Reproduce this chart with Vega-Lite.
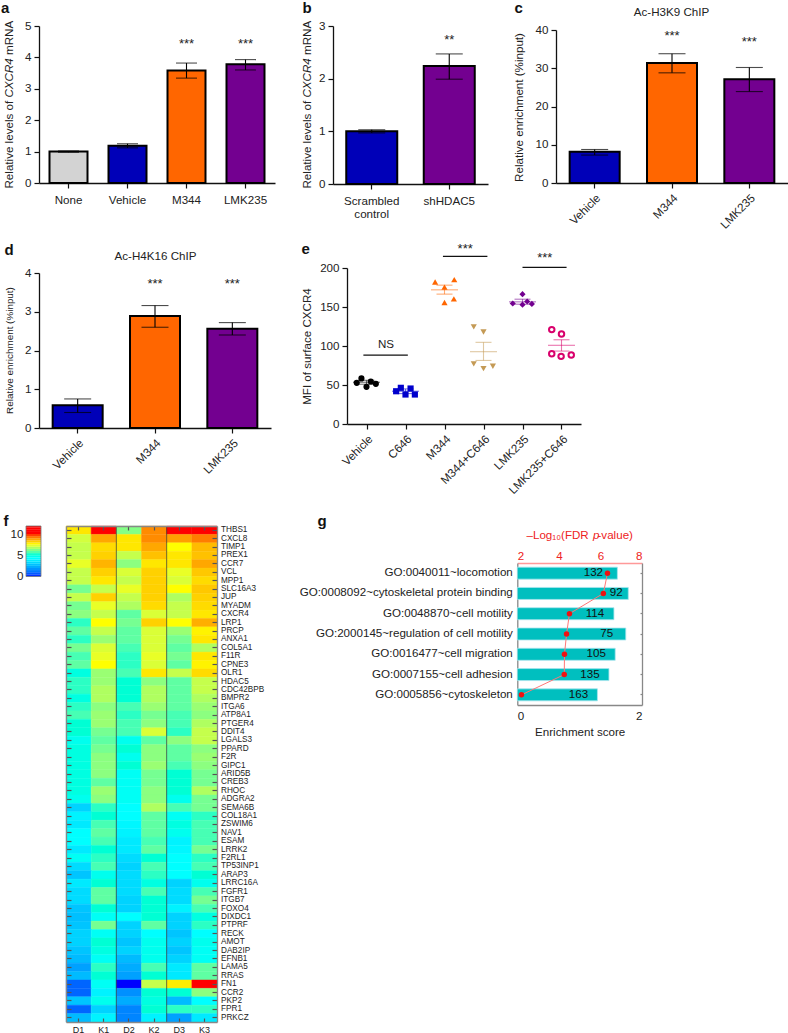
{"$schema":"https://vega.github.io/schema/vega-lite/v6.json","background":"white","autosize":{"type":"none"},"padding":0,"width":788,"height":1033,
"config":{"view":{"stroke":null},"font":"Liberation Sans","axis":{"grid":false,"labelFont":"Liberation Sans","titleFont":"Liberation Sans","labelFontSize":11.6,"titleFontSize":11.6,"titleFontWeight":"normal","labelColor":"#222","titleColor":"#222","domainColor":"#111","tickColor":"#111","domainWidth":1.3,"tickWidth":1.2,"tickSize":5,"labelPadding":3,"labelOverlap":false,"labelLimit":400},"text":{"font":"Liberation Sans"}},
"resolve":{"scale":{"x":"independent","y":"independent","color":"independent","stroke":"independent","shape":"independent"},"axis":{"x":"independent","y":"independent"}},
"datasets":{
"a":[{"cat":"None","value":1.0,"lo":0.98,"hi":1.02},{"cat":"Vehicle","value":1.19,"lo":1.12,"hi":1.25},{"cat":"M344","value":3.58,"lo":3.34,"hi":3.82,"star":"***","starAt":4.5},{"cat":"LMK235","value":3.78,"lo":3.6,"hi":3.93,"star":"***","starAt":4.5}],
"b":[{"cat":"Scrambled control","value":1.0,"lo":0.97,"hi":1.03},{"cat":"shHDAC5","value":2.24,"lo":1.99,"hi":2.47,"star":"**","starAt":2.78}],
"c":[{"cat":"Vehicle","value":8.15,"lo":7.3,"hi":8.76},{"cat":"M344","value":31.4,"lo":28.8,"hi":33.8,"star":"***","starAt":39},{"cat":"LMK235","value":27.1,"lo":23.9,"hi":30.2,"star":"***","starAt":37.5}],
"d":[{"cat":"Vehicle","value":0.59,"lo":0.4,"hi":0.75},{"cat":"M344","value":2.89,"lo":2.6,"hi":3.16,"star":"***","starAt":3.77},{"cat":"LMK235","value":2.56,"lo":2.4,"hi":2.72,"star":"***","starAt":3.77}],
"ePoints":[{"group":"Vehicle","pos":0.25,"mfi":52.8},{"group":"Vehicle","pos":0.37,"mfi":58.4},{"group":"Vehicle","pos":0.5,"mfi":47.6},{"group":"Vehicle","pos":0.61,"mfi":54.5},{"group":"Vehicle","pos":0.74,"mfi":51.5},
{"group":"C646","pos":1.26,"mfi":42},{"group":"C646","pos":1.38,"mfi":46.4},{"group":"C646","pos":1.5,"mfi":37.8},{"group":"C646","pos":1.63,"mfi":45.5},{"group":"C646","pos":1.74,"mfi":37.8},
{"group":"M344","pos":2.26,"mfi":182},{"group":"M344","pos":2.75,"mfi":185},{"group":"M344","pos":2.5,"mfi":175.5},{"group":"M344","pos":2.5,"mfi":155.8},{"group":"M344","pos":2.74,"mfi":160.5},
{"group":"M344+C646","pos":3.25,"mfi":124.5},{"group":"M344+C646","pos":3.5,"mfi":118},{"group":"M344+C646","pos":3.25,"mfi":77},{"group":"M344+C646","pos":3.5,"mfi":71},{"group":"M344+C646","pos":3.74,"mfi":74},
{"group":"LMK235","pos":4.5,"mfi":166.5},{"group":"LMK235","pos":4.25,"mfi":154.5},{"group":"LMK235","pos":4.5,"mfi":153},{"group":"LMK235","pos":4.62,"mfi":157},{"group":"LMK235","pos":4.74,"mfi":154},
{"group":"LMK235+C646","pos":5.25,"mfi":121},{"group":"LMK235+C646","pos":5.5,"mfi":115.5},{"group":"LMK235+C646","pos":5.25,"mfi":90},{"group":"LMK235+C646","pos":5.49,"mfi":86.7},{"group":"LMK235+C646","pos":5.75,"mfi":88.4}],
"eStats":[{"group":"Vehicle","pos":0.5,"mean":53.5,"lo":51,"hi":56},{"group":"C646","pos":1.5,"mean":42,"lo":39,"hi":45},{"group":"M344","pos":2.5,"mean":172,"lo":166.5,"hi":178},{"group":"M344+C646","pos":3.5,"mean":92.7,"lo":81.5,"hi":104.7},{"group":"LMK235","pos":4.5,"mean":156.6,"lo":153.6,"hi":160},{"group":"LMK235+C646","pos":5.5,"mean":100.9,"lo":93.5,"hi":108}],
"eSig":[{"from":0.42,"to":1.56,"at":88.4,"mid":1.0,"textAt":101,"label":"NS"},{"from":2.46,"to":3.6,"at":215,"mid":3.03,"textAt":227,"label":"***"},{"from":4.5,"to":5.63,"at":200.9,"mid":5.07,"textAt":216,"label":"***"}],
"g":[{"rank":1,"term":"GO:0040011~locomotion","score":1.605,"fdr":6.34,"count":132},{"rank":2,"term":"GO:0008092~cytoskeletal protein binding","score":1.78,"fdr":6.14,"count":92},{"rank":3,"term":"GO:0048870~cell motility","score":1.55,"fdr":4.51,"count":114},{"rank":4,"term":"GO:2000145~regulation of cell motility","score":1.74,"fdr":4.37,"count":75},{"rank":5,"term":"GO:0016477~cell migration","score":1.57,"fdr":4.27,"count":105},{"rank":6,"term":"GO:0007155~cell adhesion","score":1.47,"fdr":4.26,"count":135},{"rank":7,"term":"GO:0005856~cytoskeleton","score":1.285,"fdr":2.2,"count":163}],
"bar":[{"k":"bar","lo":0,"hi":0.52,"mid":0.25},{"k":"bar","lo":0.5,"hi":1.02,"mid":0.75},{"k":"bar","lo":1,"hi":1.52,"mid":1.25},{"k":"bar","lo":1.5,"hi":2.02,"mid":1.75},{"k":"bar","lo":2,"hi":2.52,"mid":2.25},{"k":"bar","lo":2.5,"hi":3.02,"mid":2.75},{"k":"bar","lo":3,"hi":3.52,"mid":3.25},{"k":"bar","lo":3.5,"hi":4.02,"mid":3.75},{"k":"bar","lo":4,"hi":4.52,"mid":4.25},{"k":"bar","lo":4.5,"hi":5.02,"mid":4.75},{"k":"bar","lo":5,"hi":5.52,"mid":5.25},{"k":"bar","lo":5.5,"hi":6.02,"mid":5.75},{"k":"bar","lo":6,"hi":6.52,"mid":6.25},{"k":"bar","lo":6.5,"hi":7.02,"mid":6.75},{"k":"bar","lo":7,"hi":7.52,"mid":7.25},{"k":"bar","lo":7.5,"hi":8.02,"mid":7.75},{"k":"bar","lo":8,"hi":8.52,"mid":8.25},{"k":"bar","lo":8.5,"hi":9.02,"mid":8.75},{"k":"bar","lo":9,"hi":9.52,"mid":9.25},{"k":"bar","lo":9.5,"hi":10.02,"mid":9.75},{"k":"bar","lo":10,"hi":10.52,"mid":10.25},{"k":"bar","lo":10.5,"hi":11.02,"mid":10.75},{"k":"bar","lo":11,"hi":11.52,"mid":11.25},{"k":"bar","lo":11.5,"hi":11.9,"mid":11.75}],
"heat":[
{"gene":"THBS1","sample":"D1","value":8.4},{"gene":"THBS1","sample":"K1","value":11},{"gene":"THBS1","sample":"D2","value":6.3},{"gene":"THBS1","sample":"K2","value":9.8},{"gene":"THBS1","sample":"D3","value":11},{"gene":"THBS1","sample":"K3","value":11},
{"gene":"CXCL8","sample":"D1","value":7.4},{"gene":"CXCL8","sample":"K1","value":9.4},{"gene":"CXCL8","sample":"D2","value":8.4},{"gene":"CXCL8","sample":"K2","value":9.8},{"gene":"CXCL8","sample":"D3","value":9.5},{"gene":"CXCL8","sample":"K3","value":10},
{"gene":"TIMP1","sample":"D1","value":7.2},{"gene":"TIMP1","sample":"K1","value":8.6},{"gene":"TIMP1","sample":"D2","value":8.4},{"gene":"TIMP1","sample":"K2","value":9.4},{"gene":"TIMP1","sample":"D3","value":8},{"gene":"TIMP1","sample":"K3","value":9.1},
{"gene":"PREX1","sample":"D1","value":7.2},{"gene":"PREX1","sample":"K1","value":8.75},{"gene":"PREX1","sample":"D2","value":7.2},{"gene":"PREX1","sample":"K2","value":9},{"gene":"PREX1","sample":"D3","value":8.4},{"gene":"PREX1","sample":"K3","value":9},
{"gene":"CCR7","sample":"D1","value":7.7},{"gene":"CCR7","sample":"K1","value":9.2},{"gene":"CCR7","sample":"D2","value":6.4},{"gene":"CCR7","sample":"K2","value":8.4},{"gene":"CCR7","sample":"D3","value":8.4},{"gene":"CCR7","sample":"K3","value":9.4},
{"gene":"VCL","sample":"D1","value":7.2},{"gene":"VCL","sample":"K1","value":8.75},{"gene":"VCL","sample":"D2","value":7.5},{"gene":"VCL","sample":"K2","value":8.75},{"gene":"VCL","sample":"D3","value":7.7},{"gene":"VCL","sample":"K3","value":8.9},
{"gene":"MPP1","sample":"D1","value":7.2},{"gene":"MPP1","sample":"K1","value":8.4},{"gene":"MPP1","sample":"D2","value":7.2},{"gene":"MPP1","sample":"K2","value":8.75},{"gene":"MPP1","sample":"D3","value":7.5},{"gene":"MPP1","sample":"K3","value":8.6},
{"gene":"SLC16A3","sample":"D1","value":6.1},{"gene":"SLC16A3","sample":"K1","value":7.2},{"gene":"SLC16A3","sample":"D2","value":7.7},{"gene":"SLC16A3","sample":"K2","value":8.75},{"gene":"SLC16A3","sample":"D3","value":8},{"gene":"SLC16A3","sample":"K3","value":8.9},
{"gene":"JUP","sample":"D1","value":7.2},{"gene":"JUP","sample":"K1","value":8.75},{"gene":"JUP","sample":"D2","value":7.2},{"gene":"JUP","sample":"K2","value":8.75},{"gene":"JUP","sample":"D3","value":6.9},{"gene":"JUP","sample":"K3","value":8.75},
{"gene":"MYADM","sample":"D1","value":6.1},{"gene":"MYADM","sample":"K1","value":7.7},{"gene":"MYADM","sample":"D2","value":6.9},{"gene":"MYADM","sample":"K2","value":8.6},{"gene":"MYADM","sample":"D3","value":7.2},{"gene":"MYADM","sample":"K3","value":8.6},
{"gene":"CXCR4","sample":"D1","value":6.4},{"gene":"CXCR4","sample":"K1","value":7.2},{"gene":"CXCR4","sample":"D2","value":5.8},{"gene":"CXCR4","sample":"K2","value":7.5},{"gene":"CXCR4","sample":"D3","value":7.2},{"gene":"CXCR4","sample":"K3","value":8.4},
{"gene":"LRP1","sample":"D1","value":5.2},{"gene":"LRP1","sample":"K1","value":8},{"gene":"LRP1","sample":"D2","value":6.1},{"gene":"LRP1","sample":"K2","value":8.75},{"gene":"LRP1","sample":"D3","value":8},{"gene":"LRP1","sample":"K3","value":9.3},
{"gene":"PRCP","sample":"D1","value":5.8},{"gene":"PRCP","sample":"K1","value":7.2},{"gene":"PRCP","sample":"D2","value":5.8},{"gene":"PRCP","sample":"K2","value":7.5},{"gene":"PRCP","sample":"D3","value":6.6},{"gene":"PRCP","sample":"K3","value":8.2},
{"gene":"ANXA1","sample":"D1","value":5.2},{"gene":"ANXA1","sample":"K1","value":6.6},{"gene":"ANXA1","sample":"D2","value":5.8},{"gene":"ANXA1","sample":"K2","value":7.5},{"gene":"ANXA1","sample":"D3","value":6.1},{"gene":"ANXA1","sample":"K3","value":8.4},
{"gene":"COL5A1","sample":"D1","value":6.1},{"gene":"COL5A1","sample":"K1","value":7.5},{"gene":"COL5A1","sample":"D2","value":5.5},{"gene":"COL5A1","sample":"K2","value":7.5},{"gene":"COL5A1","sample":"D3","value":5.8},{"gene":"COL5A1","sample":"K3","value":6.9},
{"gene":"F11R","sample":"D1","value":5.5},{"gene":"F11R","sample":"K1","value":7.7},{"gene":"F11R","sample":"D2","value":5.2},{"gene":"F11R","sample":"K2","value":7.7},{"gene":"F11R","sample":"D3","value":6.1},{"gene":"F11R","sample":"K3","value":8.4},
{"gene":"CPNE3","sample":"D1","value":5.8},{"gene":"CPNE3","sample":"K1","value":8},{"gene":"CPNE3","sample":"D2","value":5.2},{"gene":"CPNE3","sample":"K2","value":7.5},{"gene":"CPNE3","sample":"D3","value":5.8},{"gene":"CPNE3","sample":"K3","value":8.2},
{"gene":"OLR1","sample":"D1","value":4.6},{"gene":"OLR1","sample":"K1","value":6.6},{"gene":"OLR1","sample":"D2","value":5.5},{"gene":"OLR1","sample":"K2","value":8.4},{"gene":"OLR1","sample":"D3","value":7.2},{"gene":"OLR1","sample":"K3","value":8.6},
{"gene":"HDAC5","sample":"D1","value":5.2},{"gene":"HDAC5","sample":"K1","value":6.6},{"gene":"HDAC5","sample":"D2","value":4.9},{"gene":"HDAC5","sample":"K2","value":6.4},{"gene":"HDAC5","sample":"D3","value":5.8},{"gene":"HDAC5","sample":"K3","value":7.2},
{"gene":"CDC42BPB","sample":"D1","value":5.2},{"gene":"CDC42BPB","sample":"K1","value":6.9},{"gene":"CDC42BPB","sample":"D2","value":4.9},{"gene":"CDC42BPB","sample":"K2","value":6.9},{"gene":"CDC42BPB","sample":"D3","value":5.8},{"gene":"CDC42BPB","sample":"K3","value":7.2},
{"gene":"BMPR2","sample":"D1","value":4.6},{"gene":"BMPR2","sample":"K1","value":6.9},{"gene":"BMPR2","sample":"D2","value":4.9},{"gene":"BMPR2","sample":"K2","value":6.9},{"gene":"BMPR2","sample":"D3","value":5.8},{"gene":"BMPR2","sample":"K3","value":6.9},
{"gene":"ITGA6","sample":"D1","value":5.2},{"gene":"ITGA6","sample":"K1","value":6.4},{"gene":"ITGA6","sample":"D2","value":5.5},{"gene":"ITGA6","sample":"K2","value":6.6},{"gene":"ITGA6","sample":"D3","value":5.8},{"gene":"ITGA6","sample":"K3","value":6.6},
{"gene":"ATP8A1","sample":"D1","value":5.5},{"gene":"ATP8A1","sample":"K1","value":6.6},{"gene":"ATP8A1","sample":"D2","value":5.2},{"gene":"ATP8A1","sample":"K2","value":6.1},{"gene":"ATP8A1","sample":"D3","value":5.5},{"gene":"ATP8A1","sample":"K3","value":6.4},
{"gene":"PTGER4","sample":"D1","value":4.9},{"gene":"PTGER4","sample":"K1","value":6.6},{"gene":"PTGER4","sample":"D2","value":5.5},{"gene":"PTGER4","sample":"K2","value":6.4},{"gene":"PTGER4","sample":"D3","value":5.5},{"gene":"PTGER4","sample":"K3","value":6.9},
{"gene":"DDIT4","sample":"D1","value":4.9},{"gene":"DDIT4","sample":"K1","value":6.1},{"gene":"DDIT4","sample":"D2","value":5.5},{"gene":"DDIT4","sample":"K2","value":7.5},{"gene":"DDIT4","sample":"D3","value":5.2},{"gene":"DDIT4","sample":"K3","value":7.2},
{"gene":"LGALS3","sample":"D1","value":4.3},{"gene":"LGALS3","sample":"K1","value":5.8},{"gene":"LGALS3","sample":"D2","value":4.3},{"gene":"LGALS3","sample":"K2","value":5.8},{"gene":"LGALS3","sample":"D3","value":6.4},{"gene":"LGALS3","sample":"K3","value":7.2},
{"gene":"PPARD","sample":"D1","value":4.6},{"gene":"PPARD","sample":"K1","value":6.1},{"gene":"PPARD","sample":"D2","value":4.9},{"gene":"PPARD","sample":"K2","value":6.4},{"gene":"PPARD","sample":"D3","value":5.8},{"gene":"PPARD","sample":"K3","value":6.4},
{"gene":"F2R","sample":"D1","value":4.6},{"gene":"F2R","sample":"K1","value":6.4},{"gene":"F2R","sample":"D2","value":4.3},{"gene":"F2R","sample":"K2","value":6.4},{"gene":"F2R","sample":"D3","value":5.8},{"gene":"F2R","sample":"K3","value":6.6},
{"gene":"GIPC1","sample":"D1","value":4.6},{"gene":"GIPC1","sample":"K1","value":6.4},{"gene":"GIPC1","sample":"D2","value":4.9},{"gene":"GIPC1","sample":"K2","value":6.6},{"gene":"GIPC1","sample":"D3","value":5.5},{"gene":"GIPC1","sample":"K3","value":6.4},
{"gene":"ARID5B","sample":"D1","value":4.6},{"gene":"ARID5B","sample":"K1","value":6.4},{"gene":"ARID5B","sample":"D2","value":4.1},{"gene":"ARID5B","sample":"K2","value":6.1},{"gene":"ARID5B","sample":"D3","value":4.9},{"gene":"ARID5B","sample":"K3","value":6.1},
{"gene":"CREB3","sample":"D1","value":4.6},{"gene":"CREB3","sample":"K1","value":5.8},{"gene":"CREB3","sample":"D2","value":4.1},{"gene":"CREB3","sample":"K2","value":6.1},{"gene":"CREB3","sample":"D3","value":4.9},{"gene":"CREB3","sample":"K3","value":6.1},
{"gene":"RHOC","sample":"D1","value":4.6},{"gene":"RHOC","sample":"K1","value":6.6},{"gene":"RHOC","sample":"D2","value":4.1},{"gene":"RHOC","sample":"K2","value":6.4},{"gene":"RHOC","sample":"D3","value":4.9},{"gene":"RHOC","sample":"K3","value":6.9},
{"gene":"ADGRA2","sample":"D1","value":4.3},{"gene":"ADGRA2","sample":"K1","value":6.4},{"gene":"ADGRA2","sample":"D2","value":4.1},{"gene":"ADGRA2","sample":"K2","value":6.4},{"gene":"ADGRA2","sample":"D3","value":4.3},{"gene":"ADGRA2","sample":"K3","value":6.1},
{"gene":"SEMA6B","sample":"D1","value":2.8},{"gene":"SEMA6B","sample":"K1","value":5.2},{"gene":"SEMA6B","sample":"D2","value":3.8},{"gene":"SEMA6B","sample":"K2","value":6.9},{"gene":"SEMA6B","sample":"D3","value":5.5},{"gene":"SEMA6B","sample":"K3","value":6.1},
{"gene":"COL18A1","sample":"D1","value":3.5},{"gene":"COL18A1","sample":"K1","value":4.9},{"gene":"COL18A1","sample":"D2","value":3.8},{"gene":"COL18A1","sample":"K2","value":5.8},{"gene":"COL18A1","sample":"D3","value":4.1},{"gene":"COL18A1","sample":"K3","value":5.2},
{"gene":"ZSWIM6","sample":"D1","value":3.3},{"gene":"ZSWIM6","sample":"K1","value":5.5},{"gene":"ZSWIM6","sample":"D2","value":3.6},{"gene":"ZSWIM6","sample":"K2","value":5.8},{"gene":"ZSWIM6","sample":"D3","value":4.6},{"gene":"ZSWIM6","sample":"K3","value":5.5},
{"gene":"NAV1","sample":"D1","value":3.8},{"gene":"NAV1","sample":"K1","value":5.8},{"gene":"NAV1","sample":"D2","value":3.5},{"gene":"NAV1","sample":"K2","value":5.8},{"gene":"NAV1","sample":"D3","value":4.3},{"gene":"NAV1","sample":"K3","value":5.5},
{"gene":"ESAM","sample":"D1","value":3.8},{"gene":"ESAM","sample":"K1","value":5.5},{"gene":"ESAM","sample":"D2","value":3.3},{"gene":"ESAM","sample":"K2","value":5.5},{"gene":"ESAM","sample":"D3","value":3.5},{"gene":"ESAM","sample":"K3","value":5.5},
{"gene":"LRRK2","sample":"D1","value":3.3},{"gene":"LRRK2","sample":"K1","value":4.9},{"gene":"LRRK2","sample":"D2","value":3.3},{"gene":"LRRK2","sample":"K2","value":5.8},{"gene":"LRRK2","sample":"D3","value":3.6},{"gene":"LRRK2","sample":"K3","value":6.1},
{"gene":"F2RL1","sample":"D1","value":4.1},{"gene":"F2RL1","sample":"K1","value":5.2},{"gene":"F2RL1","sample":"D2","value":3.0},{"gene":"F2RL1","sample":"K2","value":4.9},{"gene":"F2RL1","sample":"D3","value":3.8},{"gene":"F2RL1","sample":"K3","value":5.2},
{"gene":"TP53INP1","sample":"D1","value":3},{"gene":"TP53INP1","sample":"K1","value":5.5},{"gene":"TP53INP1","sample":"D2","value":2.8},{"gene":"TP53INP1","sample":"K2","value":5.5},{"gene":"TP53INP1","sample":"D3","value":3.8},{"gene":"TP53INP1","sample":"K3","value":5.5},
{"gene":"ARAP3","sample":"D1","value":2.5},{"gene":"ARAP3","sample":"K1","value":4.3},{"gene":"ARAP3","sample":"D2","value":3},{"gene":"ARAP3","sample":"K2","value":5.2},{"gene":"ARAP3","sample":"D3","value":3.8},{"gene":"ARAP3","sample":"K3","value":4.9},
{"gene":"LRRC16A","sample":"D1","value":3.3},{"gene":"LRRC16A","sample":"K1","value":4.9},{"gene":"LRRC16A","sample":"D2","value":3},{"gene":"LRRC16A","sample":"K2","value":4.6},{"gene":"LRRC16A","sample":"D3","value":2.8},{"gene":"LRRC16A","sample":"K3","value":4.3},
{"gene":"FGFR1","sample":"D1","value":3},{"gene":"FGFR1","sample":"K1","value":5.8},{"gene":"FGFR1","sample":"D2","value":3},{"gene":"FGFR1","sample":"K2","value":5.5},{"gene":"FGFR1","sample":"D3","value":3},{"gene":"FGFR1","sample":"K3","value":5.5},
{"gene":"ITGB7","sample":"D1","value":3},{"gene":"ITGB7","sample":"K1","value":5.8},{"gene":"ITGB7","sample":"D2","value":2.8},{"gene":"ITGB7","sample":"K2","value":4.9},{"gene":"ITGB7","sample":"D3","value":3},{"gene":"ITGB7","sample":"K3","value":6.1},
{"gene":"FOXO4","sample":"D1","value":2.5},{"gene":"FOXO4","sample":"K1","value":4.9},{"gene":"FOXO4","sample":"D2","value":2.8},{"gene":"FOXO4","sample":"K2","value":4.9},{"gene":"FOXO4","sample":"D3","value":3.5},{"gene":"FOXO4","sample":"K3","value":5.5},
{"gene":"DIXDC1","sample":"D1","value":2.4},{"gene":"DIXDC1","sample":"K1","value":4.1},{"gene":"DIXDC1","sample":"D2","value":3.8},{"gene":"DIXDC1","sample":"K2","value":4.9},{"gene":"DIXDC1","sample":"D3","value":2.8},{"gene":"DIXDC1","sample":"K3","value":4.6},
{"gene":"PTPRF","sample":"D1","value":2.5},{"gene":"PTPRF","sample":"K1","value":6.1},{"gene":"PTPRF","sample":"D2","value":2.8},{"gene":"PTPRF","sample":"K2","value":5.8},{"gene":"PTPRF","sample":"D3","value":2.8},{"gene":"PTPRF","sample":"K3","value":5.2},
{"gene":"RECK","sample":"D1","value":2.8},{"gene":"RECK","sample":"K1","value":4.1},{"gene":"RECK","sample":"D2","value":2.8},{"gene":"RECK","sample":"K2","value":3.8},{"gene":"RECK","sample":"D3","value":2.5},{"gene":"RECK","sample":"K3","value":3.8},
{"gene":"AMOT","sample":"D1","value":2.8},{"gene":"AMOT","sample":"K1","value":4.9},{"gene":"AMOT","sample":"D2","value":2.5},{"gene":"AMOT","sample":"K2","value":4.3},{"gene":"AMOT","sample":"D3","value":2.8},{"gene":"AMOT","sample":"K3","value":4.3},
{"gene":"DAB2IP","sample":"D1","value":2.5},{"gene":"DAB2IP","sample":"K1","value":4.6},{"gene":"DAB2IP","sample":"D2","value":2.8},{"gene":"DAB2IP","sample":"K2","value":4.3},{"gene":"DAB2IP","sample":"D3","value":2.5},{"gene":"DAB2IP","sample":"K3","value":4.1},
{"gene":"EFNB1","sample":"D1","value":2.3},{"gene":"EFNB1","sample":"K1","value":4.1},{"gene":"EFNB1","sample":"D2","value":2.3},{"gene":"EFNB1","sample":"K2","value":4.3},{"gene":"EFNB1","sample":"D3","value":2.8},{"gene":"EFNB1","sample":"K3","value":4.1},
{"gene":"LAMA5","sample":"D1","value":1.8},{"gene":"LAMA5","sample":"K1","value":5.2},{"gene":"LAMA5","sample":"D2","value":2},{"gene":"LAMA5","sample":"K2","value":5.5},{"gene":"LAMA5","sample":"D3","value":3.3},{"gene":"LAMA5","sample":"K3","value":5.8},
{"gene":"RRAS","sample":"D1","value":2.3},{"gene":"RRAS","sample":"K1","value":4.9},{"gene":"RRAS","sample":"D2","value":1.8},{"gene":"RRAS","sample":"K2","value":4.9},{"gene":"RRAS","sample":"D3","value":3.3},{"gene":"RRAS","sample":"K3","value":5.8},
{"gene":"FN1","sample":"D1","value":0.8},{"gene":"FN1","sample":"K1","value":4.1},{"gene":"FN1","sample":"D2","value":0},{"gene":"FN1","sample":"K2","value":7.2},{"gene":"FN1","sample":"D3","value":8.3},{"gene":"FN1","sample":"K3","value":11},
{"gene":"CCR2","sample":"D1","value":0.8},{"gene":"CCR2","sample":"K1","value":3.5},{"gene":"CCR2","sample":"D2","value":1.5},{"gene":"CCR2","sample":"K2","value":4.9},{"gene":"CCR2","sample":"D3","value":4.9},{"gene":"CCR2","sample":"K3","value":6.4},
{"gene":"PKP2","sample":"D1","value":2.5},{"gene":"PKP2","sample":"K1","value":4.3},{"gene":"PKP2","sample":"D2","value":2},{"gene":"PKP2","sample":"K2","value":4.6},{"gene":"PKP2","sample":"D3","value":2.3},{"gene":"PKP2","sample":"K3","value":3.8},
{"gene":"FPR1","sample":"D1","value":0.8},{"gene":"FPR1","sample":"K1","value":2.8},{"gene":"FPR1","sample":"D2","value":1.3},{"gene":"FPR1","sample":"K2","value":4.9},{"gene":"FPR1","sample":"D3","value":5.2},{"gene":"FPR1","sample":"K3","value":5.2},
{"gene":"PRKCZ","sample":"D1","value":2.3},{"gene":"PRKCZ","sample":"K1","value":3.5},{"gene":"PRKCZ","sample":"D2","value":1.3},{"gene":"PRKCZ","sample":"K2","value":3.5},{"gene":"PRKCZ","sample":"D3","value":1.8},{"gene":"PRKCZ","sample":"K3","value":3.3}
]},
"layer":[
{"data":{"name":"a"},"resolve":{"axis":{"x":"independent","y":"independent"}},"layer":[
{"mark":{"type":"bar","width":38,"stroke":"#000","strokeWidth":2},"encoding":{"x":{"field":"cat","type":"nominal","sort":null,"title":null,"scale":{"range":[39,275],"paddingInner":0,"paddingOuter":0},"axis":{"orient":"bottom","labelAngle":0,"labelPadding":6,"offset":-850}},"y":{"field":"value","type":"quantitative","scale":{"domain":[0,5],"nice":false,"range":[183,26]},"axis":{"orient":"left","values":[0,1,2,3,4,5],"offset":-39,"title":"Relative levels of","titleX":-30,"titleY":188,"titleAlign":"left","titleBaseline":"middle","titleAngle":-90}},"color":{"field":"cat","type":"nominal","legend":null,"scale":{"domain":["None","Vehicle","M344","LMK235"],"range":["#d3d3d3","#0000b8","#ff6600","#730090"]}}}},
{"mark":{"type":"rule","stroke":"#000","strokeWidth":1.1},"encoding":{"x":{"field":"cat","type":"nominal","sort":null,"axis":null},"y":{"field":"lo","type":"quantitative","axis":{"orient":"left","labels":false,"ticks":false,"domain":false,"title":"CXCR4","titleFontStyle":"italic","titleX":9,"titleY":97,"titleAlign":"left","titleBaseline":"middle","titleAngle":-90}},"y2":{"field":"hi"}}},
{"mark":{"type":"tick","size":21,"thickness":1.1,"color":"#000"},"encoding":{"x":{"field":"cat","type":"nominal","sort":null,"axis":null},"y":{"field":"lo","type":"quantitative","axis":{"orient":"left","labels":false,"ticks":false,"domain":false,"title":"mRNA","titleX":9,"titleY":54.5,"titleAlign":"left","titleBaseline":"middle","titleAngle":-90}}}},
{"mark":{"type":"tick","size":21,"thickness":1.1,"color":"#000"},"encoding":{"x":{"field":"cat","type":"nominal","sort":null,"axis":null},"y":{"field":"hi","type":"quantitative","axis":null}}},
{"transform":[{"filter":"datum.star"}],"mark":{"type":"text","fontSize":13,"color":"#222","baseline":"middle","dy":2},"encoding":{"x":{"field":"cat","type":"nominal","sort":null,"axis":null},"y":{"field":"starAt","type":"quantitative","axis":{"orient":"left","labels":false,"ticks":false,"domain":false,"title":"a","titleFontSize":15,"titleFontWeight":"bold","titleColor":"#111","titleX":0.5,"titleY":12,"titleAlign":"left","titleBaseline":"alphabetic","titleAngle":0}},"text":{"field":"star"}}}
]},
{"data":{"name":"b"},"resolve":{"axis":{"x":"independent","y":"independent"}},"layer":[
{"mark":{"type":"bar","width":51,"stroke":"#000","strokeWidth":2},"encoding":{"x":{"field":"cat","type":"nominal","sort":null,"title":null,"scale":{"range":[333,488],"paddingInner":0,"paddingOuter":0},"axis":{"orient":"bottom","labelAngle":0,"labelPadding":6,"offset":-849,"labelExpr":"datum.label=='Scrambled control'?['Scrambled','control']:datum.label"}},"y":{"field":"value","type":"quantitative","scale":{"domain":[0,3],"nice":false,"range":[184,26]},"axis":{"orient":"left","values":[0,1,2,3],"offset":-333,"title":"Relative levels of","titleX":-26,"titleY":188,"titleAlign":"left","titleBaseline":"middle","titleAngle":-90}},"color":{"field":"cat","type":"nominal","legend":null,"scale":{"domain":["Scrambled control","shHDAC5"],"range":["#0000b8","#730090"]}}}},
{"mark":{"type":"rule","stroke":"#000","strokeWidth":1.1},"encoding":{"x":{"field":"cat","type":"nominal","sort":null,"axis":null},"y":{"field":"lo","type":"quantitative","axis":{"orient":"left","labels":false,"ticks":false,"domain":false,"title":"CXCR4","titleFontStyle":"italic","titleX":307,"titleY":97,"titleAlign":"left","titleBaseline":"middle","titleAngle":-90}},"y2":{"field":"hi"}}},
{"mark":{"type":"tick","size":27,"thickness":1.1,"color":"#000"},"encoding":{"x":{"field":"cat","type":"nominal","sort":null,"axis":null},"y":{"field":"lo","type":"quantitative","axis":{"orient":"left","labels":false,"ticks":false,"domain":false,"title":"mRNA","titleX":307,"titleY":54.5,"titleAlign":"left","titleBaseline":"middle","titleAngle":-90}}}},
{"mark":{"type":"tick","size":27,"thickness":1.1,"color":"#000"},"encoding":{"x":{"field":"cat","type":"nominal","sort":null,"axis":null},"y":{"field":"hi","type":"quantitative","axis":null}}},
{"transform":[{"filter":"datum.star"}],"mark":{"type":"text","fontSize":13,"color":"#222","baseline":"middle","dy":2},"encoding":{"x":{"field":"cat","type":"nominal","sort":null,"axis":null},"y":{"field":"starAt","type":"quantitative","axis":{"orient":"left","labels":false,"ticks":false,"domain":false,"title":"b","titleFontSize":15,"titleFontWeight":"bold","titleColor":"#111","titleX":302,"titleY":12,"titleAlign":"left","titleBaseline":"alphabetic","titleAngle":0}},"text":{"field":"star"}}}
]},
{"data":{"name":"c"},"resolve":{"axis":{"x":"independent","y":"independent"}},"layer":[
{"mark":{"type":"bar","width":50,"stroke":"#000","strokeWidth":2},"encoding":{"x":{"field":"cat","type":"nominal","sort":null,"title":null,"scale":{"range":[556,788],"paddingInner":0,"paddingOuter":0},"axis":{"orient":"bottom","labelAngle":-45,"labelAlign":"right","labelBaseline":"top","labelPadding":4,"offset":-850}},"y":{"field":"value","type":"quantitative","scale":{"domain":[0,40],"nice":false,"range":[183,30]},"axis":{"orient":"left","values":[0,10,20,30,40],"offset":-556,"title":"Relative enrichment (%input)","titleX":-37,"titleY":107,"titleBaseline":"middle"}},"color":{"field":"cat","type":"nominal","legend":null,"scale":{"domain":["Vehicle","M344","LMK235"],"range":["#0000b8","#ff6600","#730090"]}}}},
{"mark":{"type":"rule","stroke":"#000","strokeWidth":1.1},"encoding":{"x":{"field":"cat","type":"nominal","sort":null,"axis":{"orient":"top","labels":false,"ticks":false,"domain":false,"title":"Ac-H3K9 ChIP","titleX":671,"titleY":12,"titleBaseline":"middle"}},"y":{"field":"lo","type":"quantitative","axis":null},"y2":{"field":"hi"}}},
{"mark":{"type":"tick","size":27,"thickness":1.1,"color":"#000"},"encoding":{"x":{"field":"cat","type":"nominal","sort":null,"axis":null},"y":{"field":"lo","type":"quantitative","axis":null}}},
{"mark":{"type":"tick","size":27,"thickness":1.1,"color":"#000"},"encoding":{"x":{"field":"cat","type":"nominal","sort":null,"axis":null},"y":{"field":"hi","type":"quantitative","axis":null}}},
{"transform":[{"filter":"datum.star"}],"mark":{"type":"text","fontSize":13,"color":"#222","baseline":"middle","dy":2},"encoding":{"x":{"field":"cat","type":"nominal","sort":null,"axis":null},"y":{"field":"starAt","type":"quantitative","axis":{"orient":"left","labels":false,"ticks":false,"domain":false,"title":"c","titleFontSize":15,"titleFontWeight":"bold","titleColor":"#111","titleX":514,"titleY":12,"titleAlign":"left","titleBaseline":"alphabetic","titleAngle":0}},"text":{"field":"star"}}}
]},
{"data":{"name":"d"},"resolve":{"axis":{"x":"independent","y":"independent"}},"layer":[
{"mark":{"type":"bar","width":50,"stroke":"#000","strokeWidth":2},"encoding":{"x":{"field":"cat","type":"nominal","sort":null,"title":null,"scale":{"range":[39,271],"paddingInner":0,"paddingOuter":0},"axis":{"orient":"bottom","labelAngle":-45,"labelAlign":"right","labelBaseline":"top","labelPadding":4,"offset":-605}},"y":{"field":"value","type":"quantitative","scale":{"domain":[0,4],"nice":false,"range":[428,273]},"axis":{"orient":"left","values":[0,1,2,3,4],"offset":-39,"title":"Relative enrichment (%input)","titleFontSize":9.9,"titleX":-30,"titleY":350,"titleBaseline":"middle"}},"color":{"field":"cat","type":"nominal","legend":null,"scale":{"domain":["Vehicle","M344","LMK235"],"range":["#0000b8","#ff6600","#730090"]}}}},
{"mark":{"type":"rule","stroke":"#000","strokeWidth":1.1},"encoding":{"x":{"field":"cat","type":"nominal","sort":null,"axis":{"orient":"top","labels":false,"ticks":false,"domain":false,"title":"Ac-H4K16 ChIP","titleX":155,"titleY":256,"titleBaseline":"middle"}},"y":{"field":"lo","type":"quantitative","axis":null},"y2":{"field":"hi"}}},
{"mark":{"type":"tick","size":27,"thickness":1.1,"color":"#000"},"encoding":{"x":{"field":"cat","type":"nominal","sort":null,"axis":null},"y":{"field":"lo","type":"quantitative","axis":null}}},
{"mark":{"type":"tick","size":27,"thickness":1.1,"color":"#000"},"encoding":{"x":{"field":"cat","type":"nominal","sort":null,"axis":null},"y":{"field":"hi","type":"quantitative","axis":null}}},
{"transform":[{"filter":"datum.star"}],"mark":{"type":"text","fontSize":13,"color":"#222","baseline":"middle","dy":2},"encoding":{"x":{"field":"cat","type":"nominal","sort":null,"axis":null},"y":{"field":"starAt","type":"quantitative","axis":{"orient":"left","labels":false,"ticks":false,"domain":false,"title":"d","titleFontSize":15,"titleFontWeight":"bold","titleColor":"#111","titleX":4,"titleY":254,"titleAlign":"left","titleBaseline":"alphabetic","titleAngle":0}},"text":{"field":"star"}}}
]},
{"resolve":{"axis":{"x":"independent","y":"independent"}},"layer":[
{"data":{"name":"ePoints"},"transform":[{"filter":"datum.group!='LMK235+C646'"}],"mark":{"type":"point","filled":true,"opacity":1},"encoding":{"x":{"field":"pos","type":"quantitative","title":null,"scale":{"domain":[0,6],"nice":false,"range":[347,581]},"axis":{"orient":"bottom","values":[0.5,1.5,2.5,3.5,4.5,5.5],"offset":-609,"labelAngle":-45,"labelAlign":"right","labelBaseline":"top","labelPadding":4,"labelExpr":"['Vehicle','C646','M344','M344+C646','LMK235','LMK235+C646'][floor(datum.value)]"}},"y":{"field":"mfi","type":"quantitative","scale":{"domain":[0,200],"nice":false,"range":[424,268]},"axis":{"orient":"left","values":[0,50,100,150,200],"offset":-347,"title":"MFI of surface CXCR4","titleX":-40,"titleY":346,"titleBaseline":"middle"}},"color":{"field":"group","type":"nominal","legend":null,"scale":{"domain":["Vehicle","C646","M344","M344+C646","LMK235","LMK235+C646"],"range":["#000000","#0000cc","#ff6600","#c49a55","#730090","#d9006c"]}},"shape":{"field":"group","type":"nominal","legend":null,"scale":{"domain":["Vehicle","C646","M344","M344+C646","LMK235"],"range":["circle","square","triangle-up","triangle-down","diamond"]}},"size":{"value":38}}},
{"data":{"name":"ePoints"},"transform":[{"filter":"datum.group=='LMK235+C646'"}],"mark":{"type":"point","filled":false,"shape":"circle","size":30,"strokeWidth":2,"opacity":1},"encoding":{"x":{"field":"pos","type":"quantitative","axis":null},"y":{"field":"mfi","type":"quantitative","axis":null},"color":{"field":"group","type":"nominal","legend":null}}},
{"data":{"name":"eStats"},"mark":{"type":"rule","strokeWidth":1.1,"opacity":0.55},"encoding":{"x":{"field":"pos","type":"quantitative","axis":null},"y":{"field":"lo","type":"quantitative","axis":null},"y2":{"field":"hi"},"color":{"field":"group","type":"nominal","legend":null}}},
{"data":{"name":"eStats"},"mark":{"type":"tick","orient":"horizontal","size":27,"thickness":1.1,"opacity":0.55},"encoding":{"x":{"field":"pos","type":"quantitative","axis":null},"y":{"field":"mean","type":"quantitative","axis":null},"color":{"field":"group","type":"nominal","legend":null}}},
{"data":{"name":"eStats"},"mark":{"type":"tick","orient":"horizontal","size":16,"thickness":1.1,"opacity":0.55},"encoding":{"x":{"field":"pos","type":"quantitative","axis":null},"y":{"field":"lo","type":"quantitative","axis":null},"color":{"field":"group","type":"nominal","legend":null}}},
{"data":{"name":"eStats"},"mark":{"type":"tick","orient":"horizontal","size":16,"thickness":1.1,"opacity":0.55},"encoding":{"x":{"field":"pos","type":"quantitative","axis":null},"y":{"field":"hi","type":"quantitative","axis":null},"color":{"field":"group","type":"nominal","legend":null}}},
{"data":{"name":"eSig"},"mark":{"type":"rule","stroke":"#111","strokeWidth":1.3},"encoding":{"x":{"field":"from","type":"quantitative","axis":null},"x2":{"field":"to"},"y":{"field":"at","type":"quantitative","axis":null}}},
{"data":{"name":"eSig"},"transform":[{"filter":"datum.label=='NS'"}],"mark":{"type":"text","fontSize":11.6,"color":"#222","baseline":"middle"},"encoding":{"x":{"field":"mid","type":"quantitative","axis":null},"y":{"field":"textAt","type":"quantitative","axis":null},"text":{"field":"label"}}},
{"data":{"name":"eSig"},"transform":[{"filter":"datum.label!='NS'"}],"mark":{"type":"text","fontSize":13,"color":"#222","baseline":"middle","dy":2},"encoding":{"x":{"field":"mid","type":"quantitative","axis":null},"y":{"field":"textAt","type":"quantitative","axis":{"orient":"left","labels":false,"ticks":false,"domain":false,"title":"e","titleFontSize":15,"titleFontWeight":"bold","titleColor":"#111","titleX":301,"titleY":253,"titleAlign":"left","titleBaseline":"alphabetic","titleAngle":0}},"text":{"field":"label"}}}
]},
{"resolve":{"axis":{"x":"independent","y":"independent"}},"layer":[
{"data":{"name":"bar"},"mark":{"type":"rect"},"encoding":{"x":{"field":"k","type":"nominal","scale":{"range":[26,41],"paddingInner":0,"paddingOuter":0},"axis":null},"y":{"field":"lo","type":"quantitative","scale":{"domain":[0,11.9],"nice":false,"range":[576.5,526]},"axis":{"orient":"left","values":[0,5,10],"offset":-26,"title":null,"ticks":false,"domain":false,"labelPadding":3}},"y2":{"field":"hi"},"color":{"field":"mid","type":"quantitative","legend":null,"scale":{"domain":[0,4.3,7.6,10,12],"range":["#0000ff","#00ffff","#ffff00","#ff0000","#ff0000"]}}}},
{"data":{"values":[{"k":"bar","lo":0,"hi":11.9}]},"mark":{"type":"rect","fillOpacity":0,"stroke":"#777","strokeWidth":0.8},"encoding":{"x":{"field":"k","type":"nominal","axis":null},"y":{"field":"lo","type":"quantitative","axis":{"orient":"left","labels":false,"ticks":false,"domain":false,"title":"f","titleFontSize":15,"titleFontWeight":"bold","titleColor":"#111","titleX":3,"titleY":525,"titleAlign":"left","titleBaseline":"alphabetic","titleAngle":0}},"y2":{"field":"hi"}}}
]},
{"data":{"name":"heat"},"resolve":{"axis":{"x":"independent","y":"independent"}},"layer":[
{"mark":{"type":"rect","strokeWidth":0.4},"encoding":{"x":{"field":"sample","type":"nominal","sort":null,"title":null,"scale":{"range":[66,217],"paddingInner":0,"paddingOuter":0},"axis":{"orient":"bottom","offset":-11,"labelAngle":0,"domainColor":"#888","tickSize":-4,"tickColor":"#555","labelFontSize":9,"labelPadding":7}},"y":{"field":"gene","type":"nominal","sort":null,"title":null,"scale":{"range":[526,1022],"paddingInner":0,"paddingOuter":0},"axis":{"orient":"right","offset":-571,"domainColor":"#888","tickSize":-5,"tickColor":"#555","labelFontSize":8.2,"labelPadding":8.5}},"color":{"field":"value","type":"quantitative","legend":null,"scale":{"domain":[0,3.8,8,11],"range":["#0000ff","#00ffff","#ffff00","#ff0000"]}},"stroke":{"field":"value","type":"quantitative","legend":null,"scale":{"domain":[0,3.8,8,11],"range":["#0000ff","#00ffff","#ffff00","#ff0000"]}}}},
{"mark":{"type":"rect","opacity":0},"encoding":{"x":{"field":"sample","type":"nominal","sort":null,"title":null,"axis":{"orient":"top","offset":-526,"labels":false,"domainColor":"#888","tickSize":-4,"tickColor":"#555"}},"y":{"field":"gene","type":"nominal","sort":null,"title":null,"axis":{"orient":"left","offset":-66,"labels":false,"domainColor":"#888","tickSize":-5,"tickColor":"#555"}}}}
]},
{"data":{"values":[{"sample":"D2","from":0,"to":1},{"sample":"D3","from":0,"to":1}]},"mark":{"type":"rule","stroke":"#333","strokeWidth":1,"opacity":0.7},"encoding":{"x":{"field":"sample","type":"nominal","bandPosition":0,"scale":{"domain":["D1","K1","D2","K2","D3","K3"],"range":[66,217],"paddingInner":0,"paddingOuter":0},"axis":null},"y":{"field":"from","type":"quantitative","scale":{"domain":[0,1],"nice":false,"range":[1022,526]},"axis":null},"y2":{"field":"to"}}},
{"data":{"name":"g"},"resolve":{"scale":{"x":"independent"},"axis":{"x":"independent","y":"independent"}},"layer":[
{"mark":{"type":"bar","height":12,"color":"#00bfbf","stroke":"#a8e4ee","strokeWidth":0.8},"encoding":{"x":{"field":"score","type":"quantitative","scale":{"domain":[0,2],"nice":false,"range":[517.3,642]},"axis":{"values":[0,1,2],"format":"d","orient":"bottom","offset":-328,"title":"Enrichment score","domainColor":"#888","tickSize":0,"labelPadding":5,"titleY":27,"titleBaseline":"middle"}},"y":{"field":"term","type":"nominal","sort":null,"title":null,"scale":{"range":[563,705],"paddingInner":0,"paddingOuter":0},"axis":{"orient":"left","offset":-517.3,"domainColor":"#888","ticks":false,"labelPadding":5}}}},
{"transform":[{"filter":"datum.count==132"}],"mark":{"type":"text","fontSize":11.6,"color":"#111","dx":-24,"baseline":"middle"},"encoding":{"x":{"field":"score","type":"quantitative","scale":{"domain":[0,2],"nice":false,"range":[517.3,642]},"axis":{"orient":"top","labels":false,"ticks":false,"domain":false,"title":"-value)","titleColor":"#ee2222","titleX":597,"titleY":535,"titleAlign":"left","titleBaseline":"middle"}},"y":{"field":"term","type":"nominal","sort":null,"axis":null},"text":{"field":"count"}}},
{"transform":[{"filter":"datum.count==92"}],"mark":{"type":"text","fontSize":11.6,"color":"#111","dx":-12,"baseline":"middle"},"encoding":{"x":{"field":"score","type":"quantitative","scale":{"domain":[0,2],"nice":false,"range":[517.3,642]},"axis":null},"y":{"field":"term","type":"nominal","sort":null,"axis":null},"text":{"field":"count"}}},
{"transform":[{"filter":"datum.count!=132&&datum.count!=92"}],"mark":{"type":"text","fontSize":11.6,"color":"#111","dx":-19,"baseline":"middle"},"encoding":{"x":{"field":"score","type":"quantitative","scale":{"domain":[0,2],"nice":false,"range":[517.3,642]},"axis":null},"y":{"field":"term","type":"nominal","sort":null,"axis":null},"text":{"field":"count"}}},
{"mark":{"type":"line","color":"#ff7777","strokeWidth":1},"encoding":{"x":{"field":"fdr","type":"quantitative","scale":{"domain":[2,8],"nice":false,"range":[517.3,642]},"axis":{"values":[2,4,6,8],"orient":"top","offset":-563,"title":"–Log₁₀(FDR","titleColor":"#ee2222","labelColor":"#ee2222","domainColor":"#ff9999","tickSize":0,"labelPadding":2,"titleX":526,"titleY":-28,"titleAlign":"left","titleBaseline":"middle"}},"y":{"field":"term","type":"nominal","sort":null,"title":null,"axis":{"orient":"right","offset":-146,"labels":false,"domainColor":"#888","tickSize":-2,"tickColor":"#888"}},"order":{"field":"rank","type":"quantitative"}}},
{"mark":{"type":"circle","size":30,"color":"#ee1111","opacity":1},"encoding":{"x":{"field":"fdr","type":"quantitative","scale":{"domain":[2,8],"nice":false,"range":[517.3,642]},"axis":{"orient":"top","labels":false,"ticks":false,"domain":false,"title":"p","titleFontStyle":"italic","titleColor":"#ee2222","titleX":592.5,"titleY":535,"titleAlign":"left","titleBaseline":"middle"}},"y":{"field":"term","type":"nominal","sort":null,"axis":{"orient":"left","labels":false,"ticks":false,"domain":false,"title":"g","titleFontSize":15,"titleFontWeight":"bold","titleColor":"#111","titleX":317,"titleY":525,"titleAlign":"left","titleBaseline":"alphabetic","titleAngle":0}}}}
]}
]}
